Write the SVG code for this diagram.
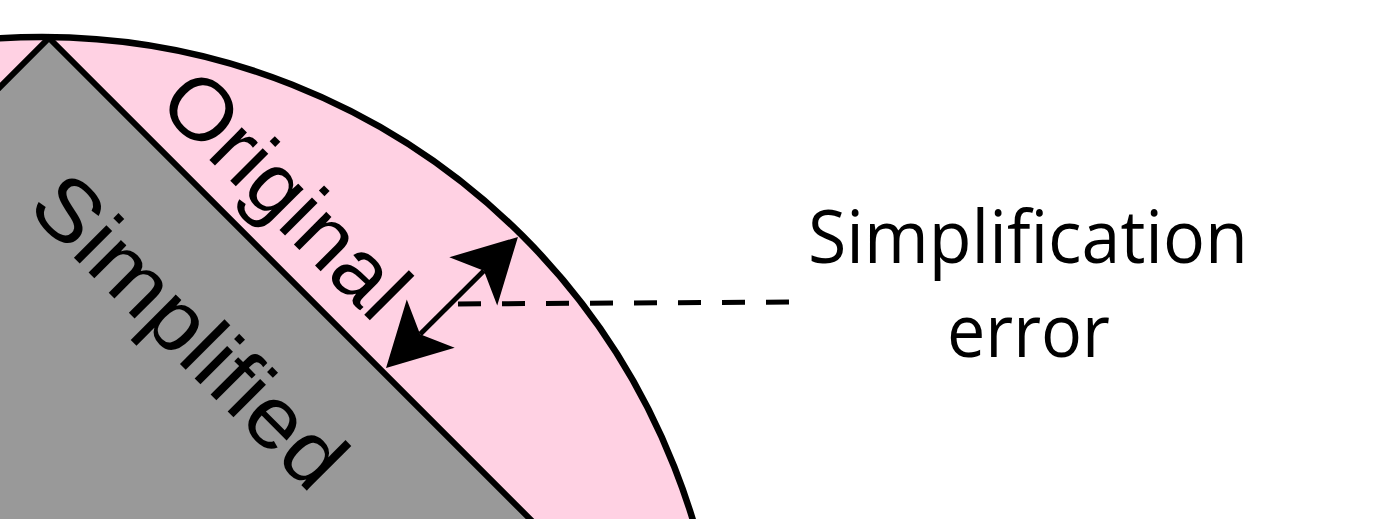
<svg xmlns="http://www.w3.org/2000/svg" width="1386" height="519" viewBox="0 0 1386 519">
<style>
.lbl{font-family:"Liberation Sans",Arial,sans-serif;font-size:87px;fill:#000}
.cap{font-family:"Open Sans","Liberation Sans",sans-serif;font-size:74px;fill:#000}
</style>
<defs>
<marker id="ah" markerUnits="userSpaceOnUse" markerWidth="80" markerHeight="80" viewBox="-20 -40 80 80" refX="0" refY="0" orient="auto-start-reverse" overflow="visible">
<path d="M48,0 L-15,-34 L0,0 L-15,34 Z" fill="#000"/>
</marker>
</defs>
<rect width="1386" height="519" fill="#fff"/>
<g id="original">
<circle cx="42" cy="717" r="680" fill="#ffd1e3" stroke="#000" stroke-width="6.5"/>
</g>
<g id="simplified">
<polygon points="49,38 580,569 -482,569" fill="#999999" stroke="#000" stroke-width="6" stroke-linejoin="miter"/>
</g>
<g id="labels">
<text class="lbl" transform="rotate(45)" x="185" y="-35" textLength="309" lengthAdjust="spacingAndGlyphs">Original</text>
<text class="lbl" transform="rotate(45)" x="166" y="130" textLength="404" lengthAdjust="spacingAndGlyphs">Simplified</text>
</g>
<g id="connectors">
<line x1="420.1" y1="334.2" x2="483.9" y2="270.8" stroke="#000" stroke-width="5" marker-start="url(#ah)" marker-end="url(#ah)"/>
<line x1="458" y1="304" x2="790" y2="302" stroke="#000" stroke-width="5" stroke-dasharray="23 21"/>
</g>
<g id="error-label">
<text class="cap" x="808" y="263" textLength="440" lengthAdjust="spacingAndGlyphs">Simplification</text>
<text class="cap" x="947" y="357" textLength="163" lengthAdjust="spacingAndGlyphs">error</text>
</g>
</svg>
